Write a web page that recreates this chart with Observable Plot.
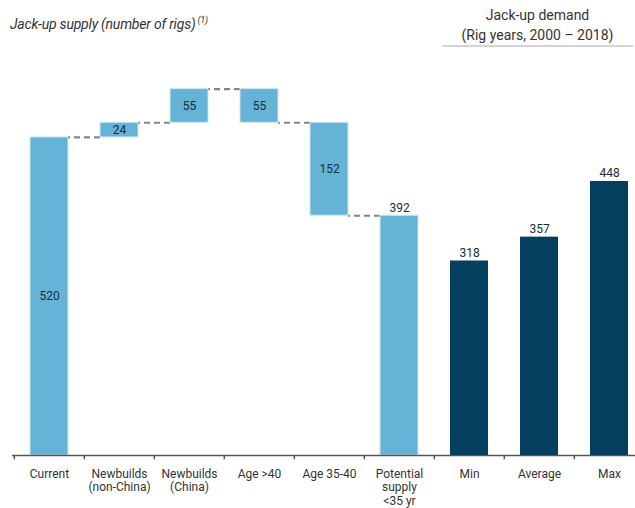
<!DOCTYPE html>
<html><head><meta charset="utf-8">
<script src="https://cdn.jsdelivr.net/npm/d3@7"></script>
<script src="https://cdn.jsdelivr.net/npm/@observablehq/plot@0.6"></script>
<style>
html,body{margin:0;padding:0;background:#fff;overflow:hidden;}
#wrap{width:635px;height:508px;position:relative;font-family:Roboto,"DejaVu Sans",sans-serif;color:#333;}
#head{position:relative;height:50px;}
#t1{position:absolute;left:10px;top:15px;font-size:14px;font-style:italic;letter-spacing:-0.2px;}
#t1 sup{font-size:9px;}
#t2{position:absolute;left:442px;width:191px;top:5px;text-align:center;font-size:14px;line-height:20px;border-bottom:2px solid #d4d4d4;}
</style></head>
<body><div id="wrap"><div id="head"><div id="t1">Jack-up supply (number of rigs)<sup> (1)</sup></div><div id="t2">Jack-up demand<br>(Rig years, 2000 – 2018)</div></div><div id="chart"></div></div>
<script>
const supplyCategories = ["Current", "Newbuilds\n(non-China)", "Newbuilds\n(China)", "Age >40", "Age 35-40", "Potential\nsupply\n<35 yr"];
const supplyValues = [520, 24, 55, -55, -152, 392];
const supplyIsTotal = [true, false, false, false, false, true];
const demandCategories = ["Min", "Average", "Max"];
const demandValues = [318, 357, 448];

const lightBlue = "#65b3d7";
const navy = "#033f5e";

const categories = [...supplyCategories, ...demandCategories];

let run = 0;
const supplyRows = supplyCategories.map((c, i) => {
  const v = supplyValues[i];
  let y1, y2;
  if (supplyIsTotal[i]) { y1 = 0; y2 = v; run = v; }
  else { y1 = run; y2 = run + v; run += v; }
  return {cat: c, y1, y2, value: v, total: supplyIsTotal[i], level: run};
});
const demandRows = demandCategories.map((c, i) => ({cat: c, y1: 0, y2: demandValues[i], value: demandValues[i]}));

const connectors = supplyRows.slice(0, -1).map((r, i) => ({from: r.cat, to: supplyRows[i + 1].cat, level: r.level}));

const insideLabels = supplyRows.filter((r, i) => i < supplyRows.length - 1);
const topLabels = [supplyRows[supplyRows.length - 1], ...demandRows];

const width = 635, marginLeft = 12, marginRight = -10;
const step = (width - marginRight - marginLeft) / categories.length;

const chart = Plot.plot({
  width, height: 458,
  marginLeft, marginRight, marginTop: 38, marginBottom: 53,
  style: {fontFamily: "Roboto, 'DejaVu Sans', sans-serif", color: "#333", overflow: "visible"},
  x: {type: "band", domain: categories, paddingInner: 0.46, paddingOuter: 0.23, axis: null},
  y: {domain: [0, 600], axis: null},
  marks: [
    Plot.ruleY(connectors, {y: "level", x1: "to", x2: "from", stroke: "#858585", strokeWidth: 2.2, strokeDasharray: "6,4"}),
    Plot.rectY(supplyRows, {x: "cat", y1: "y1", y2: "y2", fill: lightBlue, stroke: "#cfe7f3", strokeWidth: 1}),
    Plot.rectY(demandRows, {x: "cat", y1: "y1", y2: "y2", fill: navy}),
    Plot.text(insideLabels, {x: "cat", y: d => (d.y1 + d.y2) / 2, text: d => String(Math.abs(d.value)), fontSize: 12, fill: "#1c2b38"}),
    Plot.text(topLabels, {x: "cat", y: "y2", text: d => String(d.value), dy: -8, fontSize: 12, fill: "#1c2b38"}),
    Plot.ruleY([0], {stroke: "#555", strokeWidth: 1.5}),
    Plot.ruleX(categories, {x: d => d, y1: 0, y2: -7, dx: -step / 2, stroke: "#555", strokeWidth: 1.5}),
    Plot.axisX({domain: categories, tickSize: 0, tickPadding: 13, fontSize: 12, lineHeight: 1.12, fill: "#333"})
  ]
});
document.getElementById("chart").appendChild(chart);
</script>
</body></html>
